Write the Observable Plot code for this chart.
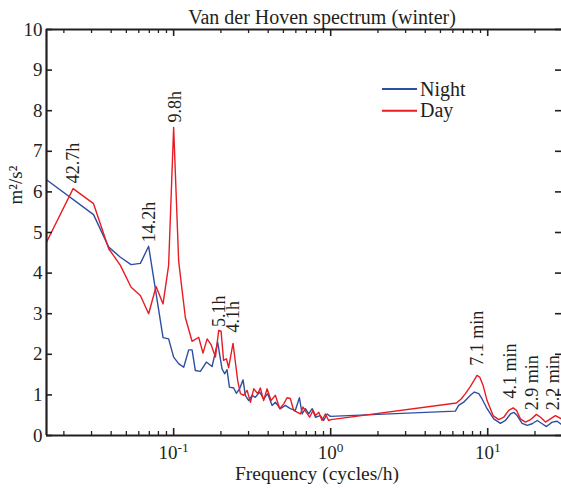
<!DOCTYPE html>
<html><head><meta charset="utf-8">
<script src="https://cdn.jsdelivr.net/npm/d3@7"></script>
<script src="https://cdn.jsdelivr.net/npm/@observablehq/plot@0.6"></script>
<style>
body{margin:0;background:#fff;}
#chart{position:relative;width:561px;height:488px;overflow:hidden;}
#chart svg, #chart svg text{font-family:"Liberation Serif","DejaVu Serif",serif !important;}
</style></head><body><div id="chart"></div>
<script>
// ---- data ----
const nightFreq = [0.0155,0.0309,0.0386,0.0458,0.0536,0.0614,0.0693,0.0856,0.0929,0.100,0.1076,0.1159,0.1247,0.131,0.1375,0.148,0.1615,0.1757,0.1906,0.2033,0.2113,0.2188,0.2265,0.2412,0.2508,0.263,0.2767,0.2862,0.3006,0.3157,0.3311,0.3532,0.3741,0.3972,0.4236,0.4446,0.4786,0.5143,0.5534,0.5957,0.6324,0.6577,0.6902,0.7244,0.7621,0.7998,0.8594,0.9016,0.9484,0.9954,6.22,6.53,7.03,7.76,8.22,8.77,9.21,9.91,10.92,12.05,12.97,13.96,14.66,15.39,16.56,17.83,19.19,20.65,22.23,23.66,25.74,27.69,29.5];
const nightPower = [6.30,5.44,4.64,4.39,4.21,4.24,4.66,2.41,2.38,1.93,1.77,1.68,2.11,2.11,1.60,1.58,1.81,1.70,2.30,1.64,1.52,1.62,1.19,1.17,1.04,1.15,1.37,0.99,0.86,0.99,0.94,1.07,0.90,1.03,0.74,0.82,0.66,0.74,0.66,0.62,0.93,0.53,0.66,0.53,0.66,0.45,0.49,0.37,0.53,0.47,0.60,0.74,0.82,0.99,1.07,1.03,0.90,0.66,0.41,0.30,0.37,0.53,0.57,0.49,0.30,0.25,0.29,0.37,0.29,0.22,0.33,0.35,0.27];
const dayFreq = [0.0155,0.0229,0.0309,0.0386,0.0458,0.0536,0.0614,0.0693,0.0773,0.0856,0.0929,0.100,0.1076,0.113,0.1188,0.131,0.1443,0.1538,0.1633,0.1730,0.1845,0.1936,0.2004,0.2080,0.2168,0.2239,0.2388,0.2472,0.2558,0.2661,0.2793,0.2937,0.3083,0.3236,0.3428,0.3565,0.3741,0.3936,0.4169,0.4446,0.4733,0.5023,0.5277,0.5534,0.5808,0.6412,0.6668,0.6998,0.7345,0.7727,0.7998,0.8395,0.8810,0.9247,0.9706,1.006,6.32,6.77,7.21,7.76,8.22,8.55,8.89,9.35,9.91,10.82,11.75,12.65,13.61,14.52,15.24,16.15,17.38,18.71,20.42,21.68,23.33,25.06,26.98,29.5];
const dayPower = [4.76,6.08,5.71,4.60,4.19,3.65,3.45,3.00,3.67,3.24,4.19,7.59,4.3,3.6,2.9,2.32,2.42,2.03,2.38,2.24,1.93,2.59,2.57,1.85,1.89,1.67,2.27,1.81,1.35,1.03,0.99,1.11,0.82,1.15,1.03,1.17,0.86,1.15,0.86,0.99,0.66,0.78,0.93,0.91,0.62,0.53,0.70,0.57,0.45,0.62,0.49,0.57,0.37,0.53,0.37,0.39,0.80,0.90,1.03,1.21,1.37,1.48,1.44,1.23,0.86,0.49,0.39,0.45,0.62,0.68,0.62,0.41,0.33,0.39,0.52,0.45,0.33,0.41,0.49,0.41];

const seriesNames = ["Night", "Day"];
const seriesColors = ["#2e4ea1", "#e81c24"];

const annLabels = ["42.7h","14.2h","9.8h","5.1h","4.1h","7.1 min","4.1 min","2.9 min","2.2 min"];
const annFreq   = [0.0229,0.0697,0.102,0.194,0.241,8.56,13.95,19.19,26.3];
const annLevel  = [6.21,4.76,7.71,2.67,2.54,1.72,0.91,0.62,0.62];

const yTicks = [0,1,2,3,4,5,6,7,8,9,10];
const xMajor = [0.1, 1, 10];
const xMinor = [0.02,0.03,0.04,0.05,0.06,0.07,0.08,0.09,0.2,0.3,0.4,0.5,0.6,0.7,0.8,0.9,2,3,4,5,6,7,8,9,20];
const xDomain = [0.0155, 29.5];
const yDomain = [0, 10];

const titleText = "Van der Hoven spectrum (winter)";
const xLabel = "Frequency (cycles/h)";
const yLabel = "m²/s²";

// ---- build tables ----
const night = nightFreq.map((f, i) => ({f, p: nightPower[i]}));
const day = dayFreq.map((f, i) => ({f, p: dayPower[i]}));
const ann = annLabels.map((label, i) => ({label, f: annFreq[i], level: annLevel[i]}));

const W = 561, H = 488, mL = 46, mR = 0, mT = 29, mB = 53;
const innerW = W - mL - mR, innerH = H - mT - mB;
const FONT = '"Liberation Serif","DejaVu Serif",serif';
const ink = "#231f20";

const plot = Plot.plot({
  width: W, height: H,
  marginLeft: mL, marginRight: mR, marginTop: mT, marginBottom: mB,
  style: {fontFamily: FONT, background: "white", color: ink, overflow: "visible"},
  x: {type: "log", domain: xDomain},
  y: {domain: yDomain},
  marks: [
    Plot.line(night, {x: "f", y: "p", stroke: seriesColors[0], strokeWidth: 1.4, clip: true}),
    Plot.line(day, {x: "f", y: "p", stroke: seriesColors[1], strokeWidth: 1.4, clip: true}),
    Plot.text(ann, {x: "f", y: "level", text: "label", rotate: -90, textAnchor: "start", fontSize: 18, fontFamily: FONT, fill: ink}),
    // frame (left, bottom, top)
    Plot.ruleY([yDomain[0]], {stroke: ink, strokeWidth: 2.2}),
    Plot.ruleY([yDomain[1]], {stroke: ink, strokeWidth: 2.2}),
    Plot.ruleX([xDomain[0]], {stroke: ink, strokeWidth: 2.2}),
    // inward ticks
    Plot.tickX(xMajor, {x: d => d, insetTop: innerH - 7, stroke: ink, strokeWidth: 1.6}),
    Plot.tickX(xMinor, {x: d => d, insetTop: innerH - 4, stroke: ink, strokeWidth: 1.3}),
    Plot.tickX(xMajor, {x: d => d, insetBottom: innerH - 7, stroke: ink, strokeWidth: 1.6}),
    Plot.tickX(xMinor, {x: d => d, insetBottom: innerH - 4, stroke: ink, strokeWidth: 1.3}),
    Plot.tickY(yTicks, {y: d => d, insetRight: innerW - 6, stroke: ink, strokeWidth: 1.6}),
    Plot.tickY(yTicks, {y: d => d, insetLeft: innerW - 6, stroke: ink, strokeWidth: 1.6}),
    // axes labels
    Plot.axisX({ticks: xMajor, tickSize: 0, tickPadding: 10, fontSize: 19, fontFamily: FONT, label: null,
      tickFormat: d => String(Math.round(Math.log10(d)))}),
    Plot.axisY({ticks: yTicks, tickSize: 0, tickPadding: 4, fontSize: 19, fontFamily: FONT, label: null}),
    Plot.text([xLabel], {text: d => d, frameAnchor: "bottom", lineAnchor: "bottom", dy: 44, dx: 13, fontSize: 19.5, fontFamily: FONT, fill: ink}),
    Plot.text([yLabel], {text: d => d, frameAnchor: "left", rotate: -90, dx: -31, dy: -28, fontSize: 19, fontFamily: FONT, fill: ink}),
    Plot.text([titleText], {text: d => d, frameAnchor: "top", lineAnchor: "bottom", dy: -6, dx: 18, fontSize: 20, fontFamily: FONT, fill: ink})
  ]
});

// superscript exponents on x tick labels
d3.select(plot).selectAll('g[aria-label="x-axis tick label"] text').each(function() {
  const exp = this.textContent.replace("−", "-");
  const t = d3.select(this);
  t.text("10");
  t.append("tspan").attr("dy", "-0.5em").attr("font-size", "0.7em").text(exp);
});

// legend
const lg = d3.select(plot).append("g")
  .attr("font-family", FONT).attr("font-size", 20).attr("fill", ink).attr("text-anchor", "start");
seriesNames.forEach((name, i) => {
  const y = 89 + i * 21.7;
  lg.append("line").attr("x1", 382).attr("x2", 417).attr("y1", y).attr("y2", y)
    .attr("stroke", seriesColors[i]).attr("stroke-width", 2);
  lg.append("text").attr("x", 420).attr("y", y + 6.5).attr("text-anchor", "start").text(name);
});

d3.select(plot).selectAll("text").style("font-family", FONT);

document.getElementById("chart").appendChild(plot);
</script></body></html>
